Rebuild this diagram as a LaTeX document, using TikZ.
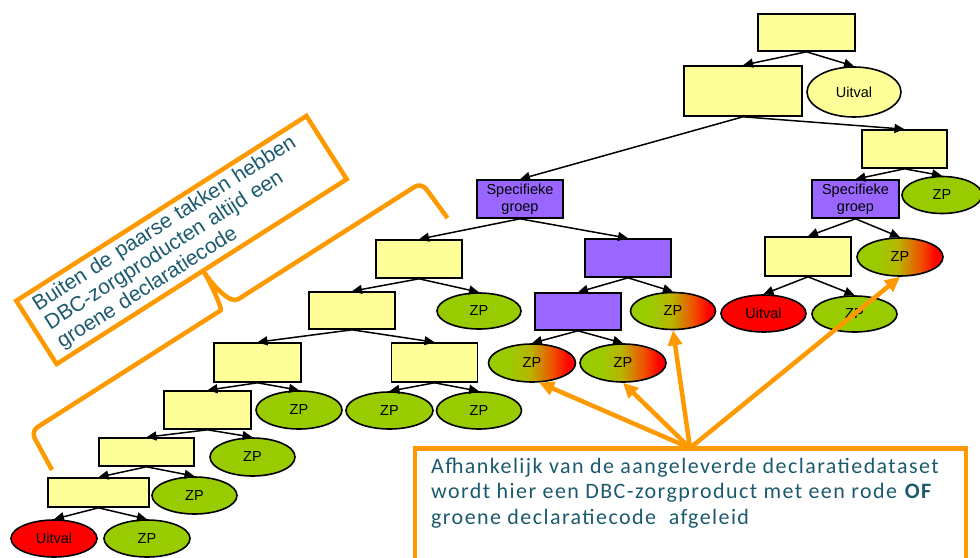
\documentclass[tikz,border=0pt]{standalone}
\usepackage{fontspec}
\setmainfont{Liberation Sans}
\newfontfamily\calfont[LetterSpace=6.5]{Carlito}
\usetikzlibrary{arrows.meta,shapes.geometric}
\definecolor{geel}{HTML}{FFFF99}
\definecolor{paars}{HTML}{9966FF}
\definecolor{groen}{HTML}{99CC00}
\definecolor{olijf}{HTML}{B8B400}
\definecolor{oranjerood}{HTML}{F05000}
\definecolor{rood}{HTML}{FF0000}
\definecolor{oranje}{HTML}{FF9900}
\definecolor{tekst}{HTML}{1B5A6E}
\pgfdeclarehorizontalshading{groenrood}{100bp}{color(0bp)=(groen); color(36bp)=(groen);
  color(49bp)=(olijf); color(62bp)=(oranjerood); color(71bp)=(rood); color(100bp)=(rood)}
\begin{document}
\begin{tikzpicture}[x=1pt,y=-1pt,
  font=\fontsize{14.5}{16.5}\selectfont,
  vak/.style={draw,line width=1.6pt,fill=geel,minimum width=86pt,minimum height=38pt,inner sep=1pt},
  paarsvak/.style={vak,fill=paars,align=center},
  ovaal/.style={ellipse,draw,line width=1.6pt,minimum width=86pt,minimum height=37pt,inner sep=0pt},
  zp/.style={ovaal,fill=groen},
  zprg/.style={ovaal,shade,shading=groenrood},
  uit/.style={ovaal,fill=rood},
  pijl/.style={-{Triangle[length=10pt,width=9pt]},line width=1.5pt},
  wijs/.style={-{Triangle[length=15pt,width=14pt]},line width=4.5pt,draw=oranje}]
\useasboundingbox (0,0) rectangle (980,557);
\clip (0,0) rectangle (980,557);
\node[vak,minimum width=97pt,minimum height=37pt] (top) at (806.5,32.5) {};
\node[vak,minimum width=118pt,minimum height=50pt] (t2) at (743,91) {};
\node[ovaal,fill=geel,minimum width=94pt,minimum height=50pt] (uitA) at (854,92) {Uitval};
\node[vak,minimum width=85pt] (t3) at (904.5,149) {};
\node[paarsvak,minimum width=87pt] (sgR) at (855.5,199) {Specifieke\\groep};
\node[zp,minimum width=80pt] (zpR1) at (942,195) {ZP};
\node[vak,minimum height=39pt] (t4) at (808,256.5) {};
\node[zprg,minimum height=38pt] (zpR2) at (900,257) {ZP};
\node[uit,minimum width=85pt] (uitR) at (763.5,313.5) {Uitval};
\node[zp,minimum width=85pt,minimum height=36pt] (zpR3) at (854.5,314) {ZP};
\node[paarsvak] (sgL) at (520,199) {Specifieke\\groep};
\node[paarsvak] (p1) at (628,258) {};
\node[paarsvak,minimum height=37pt] (p2) at (578,311.5) {};
\node[zprg,minimum width=85pt] (zpM1) at (673,311) {ZP};
\node[zprg,minimum width=87pt,minimum height=38pt] (zpM2) at (532,363) {ZP};
\node[zprg,minimum height=38pt] (zpM3) at (623,363) {ZP};
\node[vak] (e1) at (419,259) {};
\node[zp,minimum width=84pt,minimum height=36pt] (zpE) at (479,311) {ZP};
\node[vak,minimum height=37pt] (f1) at (352,310.5) {};
\node[vak,minimum width=87pt,minimum height=39pt] (g1) at (257.5,362.5) {};
\node[vak,minimum height=39pt] (h1) at (434.5,362.5) {};
\node[zp,minimum width=87pt] (zpH1) at (389.5,410.5) {ZP};
\node[zp,minimum width=85pt] (zpH2) at (479,410.5) {ZP};
\node[vak,minimum width=87pt] (i1) at (207.5,410) {};
\node[zp,minimum height=38pt] (zpI) at (299,410) {ZP};
\node[vak,minimum width=95pt,minimum height=28pt] (j1) at (146.5,452) {};
\node[zp,minimum width=85pt,minimum height=38pt] (zpJ) at (252.5,457) {ZP};
\node[vak,minimum width=101pt,minimum height=29pt] (k1) at (98.5,492.5) {};
\node[zp,minimum width=85pt] (zpK) at (194.5,495.5) {ZP};
\node[uit] (uitK) at (54,538.5) {Uitval};
\node[zp] (zpK2) at (147,538.5) {ZP};
\draw[pijl] (top.south) -- (t2.north);
\draw[pijl] (top.south) -- (uitA.north);
\draw[pijl] (t2.south) -- (sgL.north);
\draw[pijl] (t2.south) -- (t3.north);
\draw[pijl] (t3.south) -- (sgR.north);
\draw[pijl] (t3.south) -- (zpR1.north);
\draw[pijl] (sgR.south) -- (t4.north);
\draw[pijl] (sgR.south) -- (zpR2.north);
\draw[pijl] (t4.south) -- (uitR.north);
\draw[pijl] (t4.south) -- (zpR3.north);
\draw[pijl] (sgL.south) -- (e1.north);
\draw[pijl] (sgL.south) -- (p1.north);
\draw[pijl] (p1.south) -- (p2.north);
\draw[pijl] (p1.south) -- (zpM1.north);
\draw[pijl] (p2.south) -- (zpM2.north);
\draw[pijl] (p2.south) -- (zpM3.north);
\draw[pijl] (e1.south) -- (f1.north);
\draw[pijl] (e1.south) -- (zpE.north);
\draw[pijl] (f1.south) -- (g1.north);
\draw[pijl] (f1.south) -- (h1.north);
\draw[pijl] (g1.south) -- (i1.north);
\draw[pijl] (g1.south) -- (zpI.north);
\draw[pijl] (h1.south) -- (zpH1.north);
\draw[pijl] (h1.south) -- (zpH2.north);
\draw[pijl] (i1.south) -- (j1.north);
\draw[pijl] (i1.south) -- (zpJ.north);
\draw[pijl] (j1.south) -- (k1.north);
\draw[pijl] (j1.south) -- (zpK.north);
\draw[pijl] (k1.south) -- (uitK.north);
\draw[pijl] (k1.south) -- (zpK2.north);
\node[draw=oranje,line width=4.5pt,rotate=32.5,minimum width=344pt,minimum height=75pt,
  text width=318pt,align=left,inner sep=0pt,text=tekst,font=\fontsize{21}{22.5}\selectfont]
  (uitleg) at (181.5,240) {Buiten de paarse takken hebben\\DBC-zorgproducten altijd een\\groene declaratiecode};
\begin{scope}[shift={(52,470)},rotate=32.5,yscale=-1]
\draw[oranje,line width=4.5pt,rounded corners=8pt] (0,0) -- (3,44) -- (220,44)
  [sharp corners] .. controls (230,44) and (234.5,70) .. (234.5,88)
  .. controls (234.5,70) and (239,44) .. (249,44) [rounded corners=8pt] -- (466,44) -- (469,0);
\end{scope}
\draw[oranje,line width=4.5pt] (415,600) -- (415,448.5) -- (966,448.5) -- (966,600);
\node[anchor=north west,text=tekst,align=left,inner sep=0pt,font=\calfont\fontsize{22}{25.5}\selectfont]
  (afh) at (431,457.5) {Afhankelijk van de aangeleverde declaratiedataset\\wordt hier een DBC-zorgproduct met een rode \textbf{OF}\\groene declaratiecode\ \ afgeleid};
\coordinate (bron) at (690,448);
\draw[wijs] (bron) -- (zpM2.-70);
\draw[wijs] (bron) -- (zpM3.south);
\draw[wijs] (bron) -- (zpM1.south);
\draw[wijs] (bron) -- (zpR2.south);
\end{tikzpicture}
\end{document}
